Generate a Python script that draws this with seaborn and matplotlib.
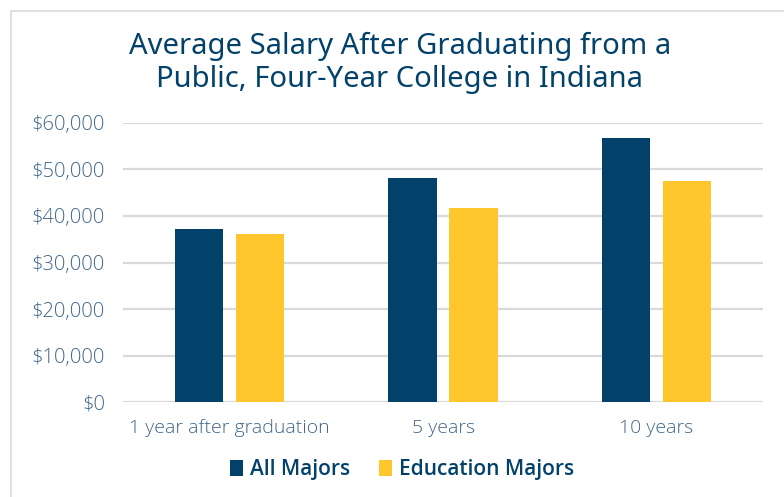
import matplotlib
matplotlib.use("Agg")
import matplotlib.pyplot as plt
from matplotlib.lines import Line2D
from matplotlib.patches import Patch
import seaborn as sns
import pandas as pd

# Average salary by time since graduation
periods = ["1 year after graduation", "5 years", "10 years"]
all_majors = [37100, 48100, 56800]
education_majors = [36200, 41800, 47600]
series_names = ["All Majors", "Education Majors"]
y_ticks = [0, 10000, 20000, 30000, 40000, 50000, 60000]

NAVY = "#02416A"
GOLD = "#FFC62D"
TICK_COLOR = "#3F6689"
GRID = "#D9D9D9"

df = pd.DataFrame({
    "period": periods * 2,
    "salary": all_majors + education_majors,
    "series": [series_names[0]] * 3 + [series_names[1]] * 3,
})

sns.set_theme(style="white")
plt.rcParams["font.family"] = ["Open Sans", "DejaVu Sans"]

fig = plt.figure(figsize=(7.84, 4.97), dpi=100)
ax = fig.add_axes([123 / 784, 1 - 402 / 497, (763 - 123) / 784, (402 - 123) / 497])

sns.barplot(data=df, x="period", y="salary", hue="series",
            palette=[NAVY, GOLD], width=0.572, gap=0.21,
            saturation=1, ax=ax, legend=False, edgecolor="none")

ax.set_ylim(0, 60000)
ax.set_xlim(-0.5, 2.5)
ax.set_yticks(y_ticks)
ax.set_yticklabels([f"${v:,.0f}" for v in y_ticks])
ax.set_xlabel("")
ax.set_ylabel("")
ax.yaxis.grid(True, color=GRID, linewidth=1.6)
ax.set_axisbelow(True)
for s in ax.spines.values():
    s.set_visible(False)
ax.tick_params(axis="y", length=0, pad=13, labelsize=14.5, labelcolor=TICK_COLOR)
ax.tick_params(axis="x", length=0, pad=12, labelsize=14, labelcolor=TICK_COLOR)
for lbl in ax.get_yticklabels() + ax.get_xticklabels():
    lbl.set_fontweight(300)

fig.text(400 / 784, 1 - 63 / 497,
         "Average Salary After Graduating from a\nPublic, Four-Year College in Indiana",
         ha="center", va="center", fontsize=21, color=NAVY,
         family=["Noto Sans", "DejaVu Sans"], fontweight="medium", linespacing=1.18)

handles = [Patch(facecolor=NAVY, edgecolor="none"), Patch(facecolor=GOLD, edgecolor="none")]
leg = fig.legend(handles, series_names, loc="center", bbox_to_anchor=(402 / 784, 1 - 470 / 497),
                 ncol=2, frameon=False, fontsize=15, handlelength=0.6, handleheight=0.8,
                 handletextpad=0.35, columnspacing=1.4)
for t in leg.get_texts():
    t.set_color(NAVY)
    t.set_fontweight("semibold")

# card border along the top and left edges
fig.add_artist(Line2D([11 / 784, 11 / 784], [0, 1 - 11 / 497], transform=fig.transFigure,
                      color=GRID, linewidth=1.2))
fig.add_artist(Line2D([11 / 784, 1], [1 - 11 / 497, 1 - 11 / 497], transform=fig.transFigure,
                      color=GRID, linewidth=1.2))

fig.savefig("out.png", dpi=100)
